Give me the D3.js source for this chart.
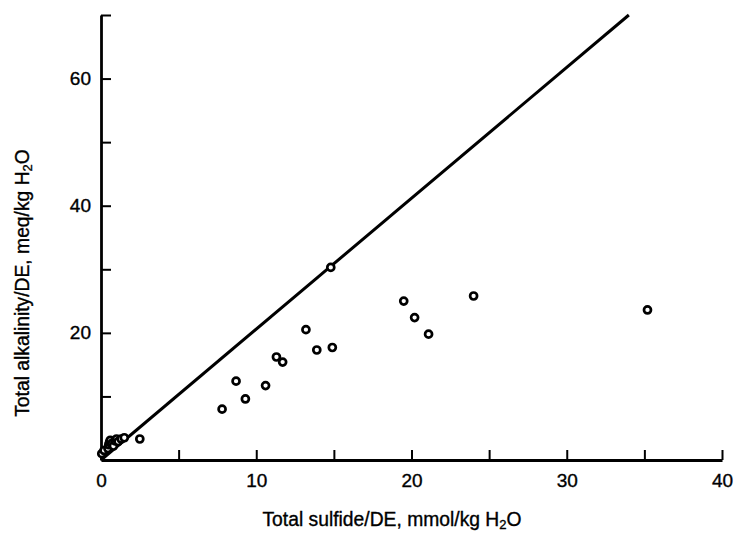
<!DOCTYPE html>
<html>
<head>
<meta charset="utf-8">
<script src="https://cdn.jsdelivr.net/npm/d3@7"></script>
<style>
  html, body { margin: 0; padding: 0; background: #fff; }
  svg { display: block; }
  text { font-family: "Liberation Sans", Arial, Helvetica, sans-serif; fill: #000; stroke: #000; stroke-width: 0.35px; }
</style>
</head>
<body>
<svg id="chart" width="735" height="535"></svg>
<script>
// Total sulfide vs total alkalinity (both per DE)
const sulfide = [0.05, 0.2, 0.45, 0.5, 0.55, 0.6, 0.7, 0.8, 0.9, 1.0,
                 1.1, 1.3, 1.5, 2.5,
                 7.8, 8.7, 9.3, 10.6, 11.3, 11.7, 13.2, 13.9, 14.8, 14.9,
                 19.5, 20.2, 21.1, 24.0, 35.2];
const alkalinity = [1.0, 1.5, 1.8, 2.4, 2.8, 3.1, 2.6, 2.2, 3.0, 3.3,
                    2.9, 3.3, 3.5, 3.3,
                    8.0, 12.4, 9.6, 11.7, 16.2, 15.4, 20.5, 17.3, 30.3, 17.7,
                    25.0, 22.4, 19.8, 25.8, 23.6];

// Reference line: alkalinity ≈ 2 × sulfide
const lineSulfide = [0, 34];
const lineAlkalinity = [0, 70];

const xTicks = [0, 5, 10, 15, 20, 25, 30, 35, 40];
const xTickLabels = [0, 10, 20, 30, 40];
const yTicks = [10, 20, 30, 40, 50, 60, 70];
const yTickLabels = [20, 40, 60];

const svg = d3.select("#chart");
const x = d3.scaleLinear().domain([0, 40]).range([101, 722]);
const y = d3.scaleLinear().domain([0, 70]).range([460, 15]);

// axes
const xAxis = d3.axisBottom(x)
  .tickValues(xTicks)
  .tickSizeInner(-10).tickSizeOuter(0)
  .tickFormat(d => xTickLabels.includes(d) ? d : "");
const gx = svg.append("g").attr("transform", `translate(0,${y(0)})`).call(xAxis);
gx.select(".domain").attr("stroke", "#000").attr("stroke-width", 2.8);
gx.selectAll(".tick line").attr("stroke", "#000").attr("stroke-width", 2);
gx.selectAll(".tick text").attr("font-size", 19).attr("dy", 0).attr("y", 27);

const yAxis = d3.axisLeft(y)
  .tickValues(yTicks)
  .tickSizeInner(-10).tickSizeOuter(0)
  .tickFormat(d => yTickLabels.includes(d) ? d : "");
const gy = svg.append("g").attr("transform", `translate(${x(0)},0)`).call(yAxis);
gy.select(".domain").attr("stroke", "#000").attr("stroke-width", 2.8);
gy.selectAll(".tick line").attr("stroke", "#000").attr("stroke-width", 2);
gy.selectAll(".tick text").attr("font-size", 19).attr("x", -10);

// reference line
svg.append("path")
  .datum(d3.zip(lineSulfide, lineAlkalinity))
  .attr("d", d3.line().x(d => x(d[0])).y(d => y(d[1])))
  .attr("fill", "none").attr("stroke", "#000").attr("stroke-width", 3);

// data points
svg.append("g").selectAll("circle")
  .data(d3.zip(sulfide, alkalinity))
  .join("circle")
  .attr("cx", d => x(d[0]))
  .attr("cy", d => y(d[1]))
  .attr("r", 3.5)
  .attr("fill", "#fff")
  .attr("stroke", "#000")
  .attr("stroke-width", 2.7);

// axis titles
const xt = svg.append("text")
  .attr("x", 392).attr("y", 526)
  .attr("text-anchor", "middle").attr("font-size", 19.3);
xt.append("tspan").text("Total sulfide/DE, mmol/kg H");
xt.append("tspan").text("2").attr("font-size", 13).attr("dy", 3);
xt.append("tspan").text("O").attr("dy", -3);

const yt = svg.append("text")
  .attr("transform", "translate(29,283) rotate(-90)")
  .attr("text-anchor", "middle").attr("font-size", 19.3);
yt.append("tspan").text("Total alkalinity/DE, meq/kg H");
yt.append("tspan").text("2").attr("font-size", 13).attr("dy", 3);
yt.append("tspan").text("O").attr("dy", -3);
</script>
</body>
</html>
